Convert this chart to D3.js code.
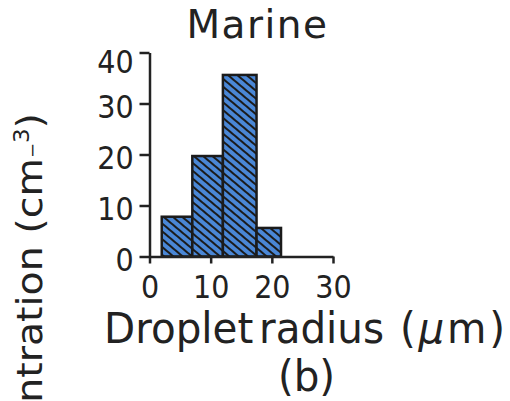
<!DOCTYPE html>
<html>
<head>
<meta charset="utf-8">
<script src="https://cdn.jsdelivr.net/npm/d3@7"></script>
<style>
  body { margin: 0; background: #fff; }
  svg { display: block; }
  text { font-family: "DejaVu Sans", sans-serif; fill: #222; }
</style>
</head>
<body>
<svg id="chart" width="510" height="401"></svg>
<script>
// histogram bins (droplet radius, um) and concentrations (cm^-3)
var binStart = [2, 7, 12, 17.5];
var binEnd = [7, 12, 17.5, 21.5];
var concentration = [7.8, 19.7, 35.6, 5.6];
var xTicks = [0, 10, 20, 30];
var yTicks = [0, 10, 20, 30, 40];

// the original figure is a little narrow horizontally
var squeeze = 0.88;

var svg = d3.select('#chart');

var x = d3.scaleLinear().domain([0, 30]).range([149.5, 333]);
var y = d3.scaleLinear().domain([0, 40]).range([256.5, 52.5]);

// diagonal hatch over blue
var defs = svg.append('defs');
var pat = defs.append('pattern')
  .attr('id', 'hatch')
  .attr('patternUnits', 'userSpaceOnUse')
  .attr('width', 6)
  .attr('height', 6)
  .attr('patternTransform', 'rotate(40)');
pat.append('rect').attr('width', 6).attr('height', 6).attr('fill', '#4a87d6');
pat.append('line')
  .attr('x1', 0).attr('x2', 6).attr('y1', 1).attr('y2', 1)
  .attr('stroke', '#1b1b1b').attr('stroke-width', 2);

var bins = binStart.map(function(s, i) {
  return { x0: s, x1: binEnd[i], v: concentration[i] };
});

svg.append('g').attr('class', 'bars')
  .selectAll('rect')
  .data(bins)
  .enter().append('rect')
  .attr('x', function(d) { return x(d.x0); })
  .attr('y', function(d) { return y(d.v); })
  .attr('width', function(d) { return x(d.x1) - x(d.x0); })
  .attr('height', function(d) { return y(0) - y(d.v); })
  .attr('fill', 'url(#hatch)')
  .attr('stroke', '#1b1b1b')
  .attr('stroke-width', 2.5);

var xAxis = svg.append('g')
  .attr('transform', 'translate(0,' + y(0) + ')')
  .call(d3.axisBottom(x).tickValues(xTicks).tickSize(7).tickSizeOuter(0).tickPadding(11));

var yAxis = svg.append('g')
  .attr('transform', 'translate(' + x(0) + ',0)')
  .call(d3.axisLeft(y).tickValues(yTicks).tickSize(10).tickSizeOuter(0).tickPadding(8));

[xAxis, yAxis].forEach(function(g) {
  g.selectAll('path, line').attr('stroke', '#222').attr('stroke-width', 2.5);
  g.selectAll('text')
    .attr('fill', '#222')
    .attr('transform', 'scale(' + squeeze + ',1)')
    .style('font-family', '"DejaVu Sans", sans-serif')
    .style('font-size', '32.5px');
});
yAxis.selectAll('text').attr('dy', function(d) { return d === 40 ? '0.62em' : '0.42em'; });

// title
svg.append('text')
  .attr('x', 257.5).attr('y', 38)
  .attr('text-anchor', 'middle')
  .style('font-size', '39px')
  .style('letter-spacing', '1.5px')
  .text('Marine');

// x label
var xs = 0.93;
var xl = svg.append('text')
  .attr('transform', 'translate(0,343) scale(' + xs + ',1)')
  .style('font-size', '43.5px');
xl.append('tspan').attr('x', 104 / xs).text('Droplet');
xl.append('tspan').attr('x', 259 / xs).text('radius');
var unit = xl.append('tspan').attr('x', 400 / xs).style('letter-spacing', '3px');
unit.append('tspan').text('(');
unit.append('tspan').style('font-style', 'italic').text('\u03bc');
unit.append('tspan').text('m)');

svg.append('text')
  .attr('transform', 'translate(306.5,391) scale(' + xs + ',1)')
  .attr('text-anchor', 'middle')
  .style('font-size', '43.5px')
  .text('(b)');

// y label, runs off the left edge like the original
var yl = svg.append('text')
  .attr('transform', 'translate(42,113) scale(0.9,1) rotate(-90)')
  .attr('text-anchor', 'end')
  .style('font-size', '39.5px');
yl.append('tspan').text('Concentration (cm');
yl.append('tspan').attr('dy', -5).style('font-size', '18px').text('\u2212');
yl.append('tspan').attr('dy', -9).style('font-size', '23px').text('3');
yl.append('tspan').attr('dy', 14).text(')');
</script>
</body>
</html>
